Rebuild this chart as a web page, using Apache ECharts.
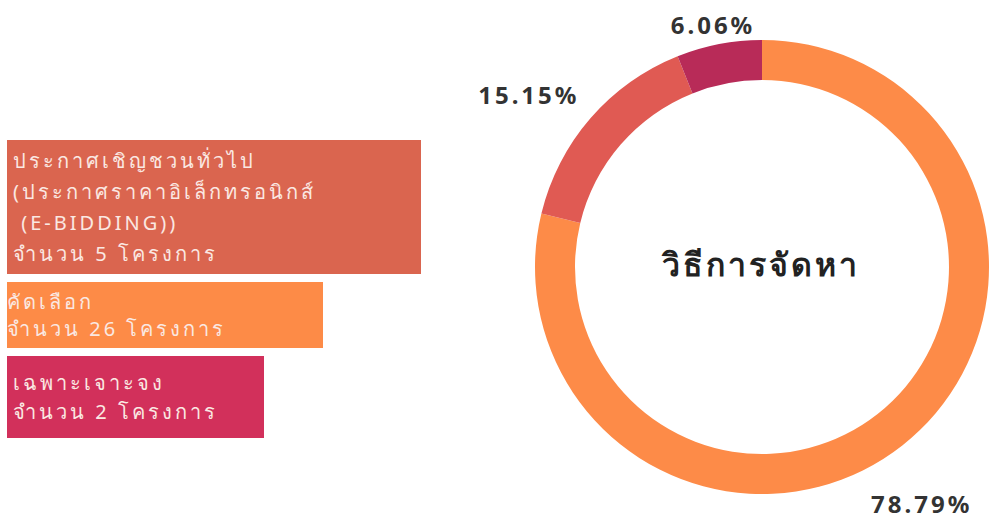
<!DOCTYPE html>
<html>
<head>
<meta charset="utf-8">
<script src="https://cdn.jsdelivr.net/npm/echarts@6/dist/echarts.min.js"></script>
<style>
    html, body { margin: 0; padding: 0; background: #fff; }
    #chart { width: 997px; height: 523px; letter-spacing: 3px; }
</style>
</head>
<body>
<div id="chart"></div>
<script>
// วิธีการจัดหา - ข้อมูล
const categories = [
    'คัดเลือก',
    'ประกาศเชิญชวนทั่วไป\n(ประกาศราคาอิเล็กทรอนิกส์\n (E-BIDDING))',
    'เฉพาะเจาะจง'
]
const projectCounts = [26, 5, 2]
const legendOrder = [1, 0, 2]
const centerTitle = 'วิธีการจัดหา'

const sliceColors = ['#fd8b48', '#e05a53', '#b82b58']
const boxColors = ['#fd8b47', '#da654f', '#d2305b']
// label line lengths per slice (label placement only)
const labelLens = [[74, -82], [37, -22], [20, -45]]
// legend box styles per slice
const boxStyles = [
    { padding: [5, 0, 7, 0], width: 316, height: 54, lineHeight: 27 },
    { padding: [9, 0, 1, 6], width: 408, height: 124, lineHeight: 31 },
    { padding: [8, 0, 16, 6], width: 251, height: 58, lineHeight: 29 }
]

const chart = echarts.init(document.getElementById('chart'), null, { renderer: 'svg' })

chart.setOption({
    animation: false,
    legend: {
        orient: 'vertical',
        left: 2,
        top: 140,
        padding: 0,
        itemGap: 8,
        itemWidth: 0,
        itemHeight: 0,
        icon: 'none',
        selectedMode: false,
        data: legendOrder.map(i => ({
            name: categories[i],
            textStyle: Object.assign({
                backgroundColor: boxColors[i],
                color: '#fae8e2',
                fontSize: 20,
                fontFamily: '"Noto Sans", sans-serif'
            }, boxStyles[i])
        })),
        formatter: function (name) {
            const i = categories.indexOf(name)
            return name + '\nจำนวน ' + projectCounts[i] + ' โครงการ'
        }
    },
    graphic: [{
        type: 'text',
        x: 761,
        y: 263,
        style: {
            text: centerTitle,
            align: 'center',
            verticalAlign: 'middle',
            fill: '#222',
            font: 'bold 32px "Noto Sans", sans-serif'
        }
    }],
    series: [
        {
            type: 'pie',
            center: [762, 267],
            radius: [187, 227],
            startAngle: 90,
            avoidLabelOverlap: false,
            emphasis: { scale: false },
            label: {
                show: true,
                position: 'outside',
                formatter: '{d}%',
                fontSize: 24,
                fontWeight: 'bold',
                color: '#333',
                fontFamily: '"Noto Sans", sans-serif'
            },
            labelLine: { show: false },
            data: categories.map((name, i) => ({
                name: name,
                value: projectCounts[i],
                itemStyle: { color: sliceColors[i] },
                labelLine: { show: false, length: labelLens[i][0], length2: labelLens[i][1] }
            }))
        }
    ]
})
</script>
</body>
</html>
